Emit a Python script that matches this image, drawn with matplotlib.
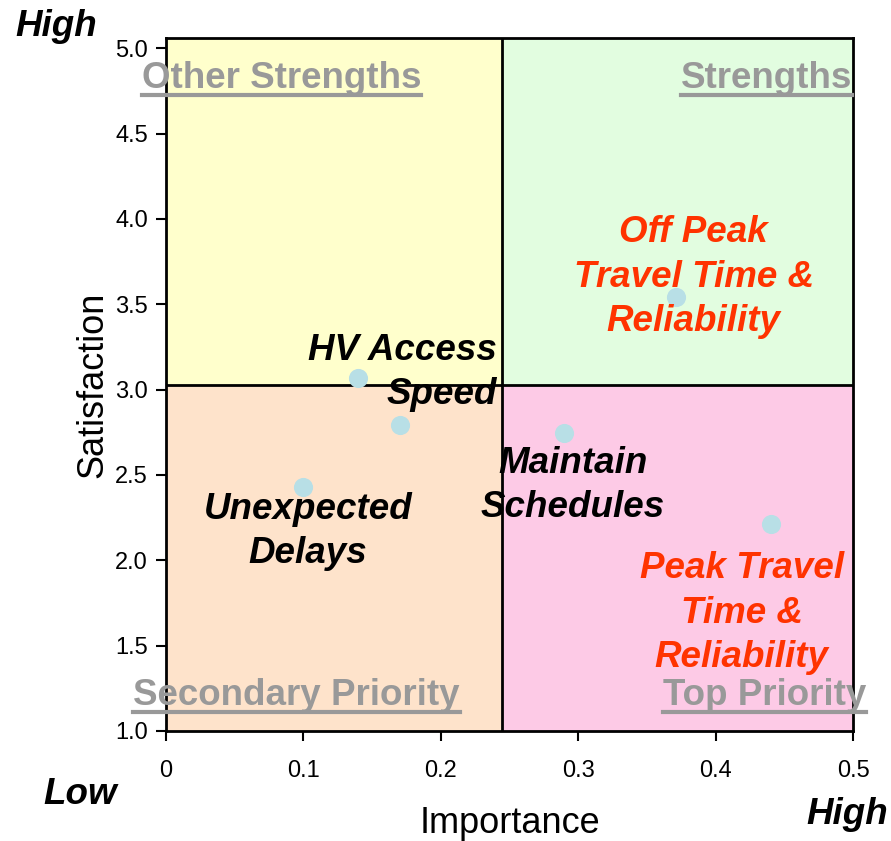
import matplotlib
matplotlib.use("Agg")
import matplotlib.pyplot as plt
from matplotlib.lines import Line2D

plt.rcParams['font.family'] = ['Liberation Sans', 'DejaVu Sans']

# ---------------- data ----------------
names = ["HV Access\nSpeed", "Unexpected\nDelays", "Maintain\nSchedules",
         "Off Peak\nTravel Time &\nReliability", "Peak Travel\nTime &\nReliability"]
importance = [0.140, 0.170, 0.100, 0.290, 0.371, 0.440]
satisfaction = [3.07, 2.79, 2.43, 2.745, 3.54, 2.21]
x_split = 0.2445
y_split = 3.03
x_ticks = [0, 0.1, 0.2, 0.3, 0.4, 0.5]
x_ticklabels = ["0", "0.1", "0.2", "0.3", "0.4", "0.5"]
y_ticks = [1.0, 1.5, 2.0, 2.5, 3.0, 3.5, 4.0, 4.5, 5.0]

fig = plt.figure(figsize=(8.91, 8.41), dpi=100)
ax = fig.add_axes([0.1863, 0.1308, 0.7711, 0.824])
xmin, xmax, ymin, ymax = 0, 0.5, 1.0, 5.06
ax.set_xlim(xmin, xmax)
ax.set_ylim(ymin, ymax)

# quadrant backgrounds
ax.fill_between([xmin, x_split], y_split, ymax, color='#ffffcc', lw=0, zorder=0)
ax.fill_between([x_split, xmax], y_split, ymax, color='#e2fde0', lw=0, zorder=0)
ax.fill_between([xmin, x_split], ymin, y_split, color='#fee3cb', lw=0, zorder=0)
ax.fill_between([x_split, xmax], ymin, y_split, color='#fdcae6', lw=0, zorder=0)
ax.axvline(x_split, color='black', lw=2, zorder=1)
ax.axhline(y_split, color='black', lw=2, zorder=1)

ax.scatter(importance, satisfaction, s=190, color='#b8dfe6', zorder=3, lw=0)

for s in ax.spines.values():
    s.set_linewidth(2)
ax.set_xticks(x_ticks)
ax.set_xticklabels(x_ticklabels)
ax.set_yticks(y_ticks)
ax.set_yticklabels(["%.1f" % v for v in y_ticks])
ax.tick_params(direction='out', length=7, width=1.5, labelsize=17, pad=6)
ax.tick_params(axis='x', pad=14)
ax.set_xlabel("Importance", fontsize=26, va='center')
ax.set_ylabel("Satisfaction", fontsize=26, va='center')
ax.xaxis.set_label_coords(0.5, -0.133)
ax.yaxis.set_label_coords(-0.106, 0.5)

# point labels
lab_kw = dict(fontsize=26.5, fontweight='bold', style='italic', linespacing=1.34, zorder=4)
ax.text(0.2409, 3.10, names[0], ha='right', va='center', color='black', **lab_kw)
ax.text(0.1033, 2.171, names[1], ha='center', va='center', color='black', **lab_kw)
ax.text(0.296, 2.438, names[2], ha='center', va='center', color='black', **lab_kw)
ax.text(0.384, 3.659, names[3], ha='center', va='center', color='#ff3300', **lab_kw)
ax.text(0.419, 1.691, names[4], ha='center', va='center', color='#ff3300', **lab_kw)

# quadrant titles (underlined)
q_kw = dict(fontsize=26.5, fontweight='bold', color='#999999', va='baseline',
            clip_on=False, zorder=5)
quad = [
    ax.text(-0.0175, 4.77, "Other Strengths", ha='left', **q_kw),
    ax.text(0.4995, 4.77, "Strengths", ha='right', **q_kw),
    ax.text(-0.024, 1.15, "Secondary Priority", ha='left', **q_kw),
    ax.text(0.5095, 1.15, "Top Priority", ha='right', **q_kw),
]

# corner labels
c_kw = dict(fontsize=26.5, fontweight='bold', style='italic', color='black')
fig.text(56 / 891, 1 - 27 / 841, "High", ha='center', va='center', **c_kw)
fig.text(80 / 891, 1 - 795 / 841, "Low", ha='center', va='center', **c_kw)
fig.text(847 / 891, 1 - 815 / 841, "High", ha='center', va='center', **c_kw)

fig.canvas.draw()
r = fig.canvas.get_renderer()
H = fig.bbox.height
W = fig.bbox.width
for t in quad:
    bb = t.get_window_extent(r)
    xb, yb = ax.transData.transform(t.get_position())
    yline = yb - 7
    fig.add_artist(Line2D([bb.x0 / W, bb.x1 / W], [yline / H, yline / H],
                          color='#999999', lw=3, transform=fig.transFigure, zorder=6))

fig.savefig("out.png", dpi=100)
